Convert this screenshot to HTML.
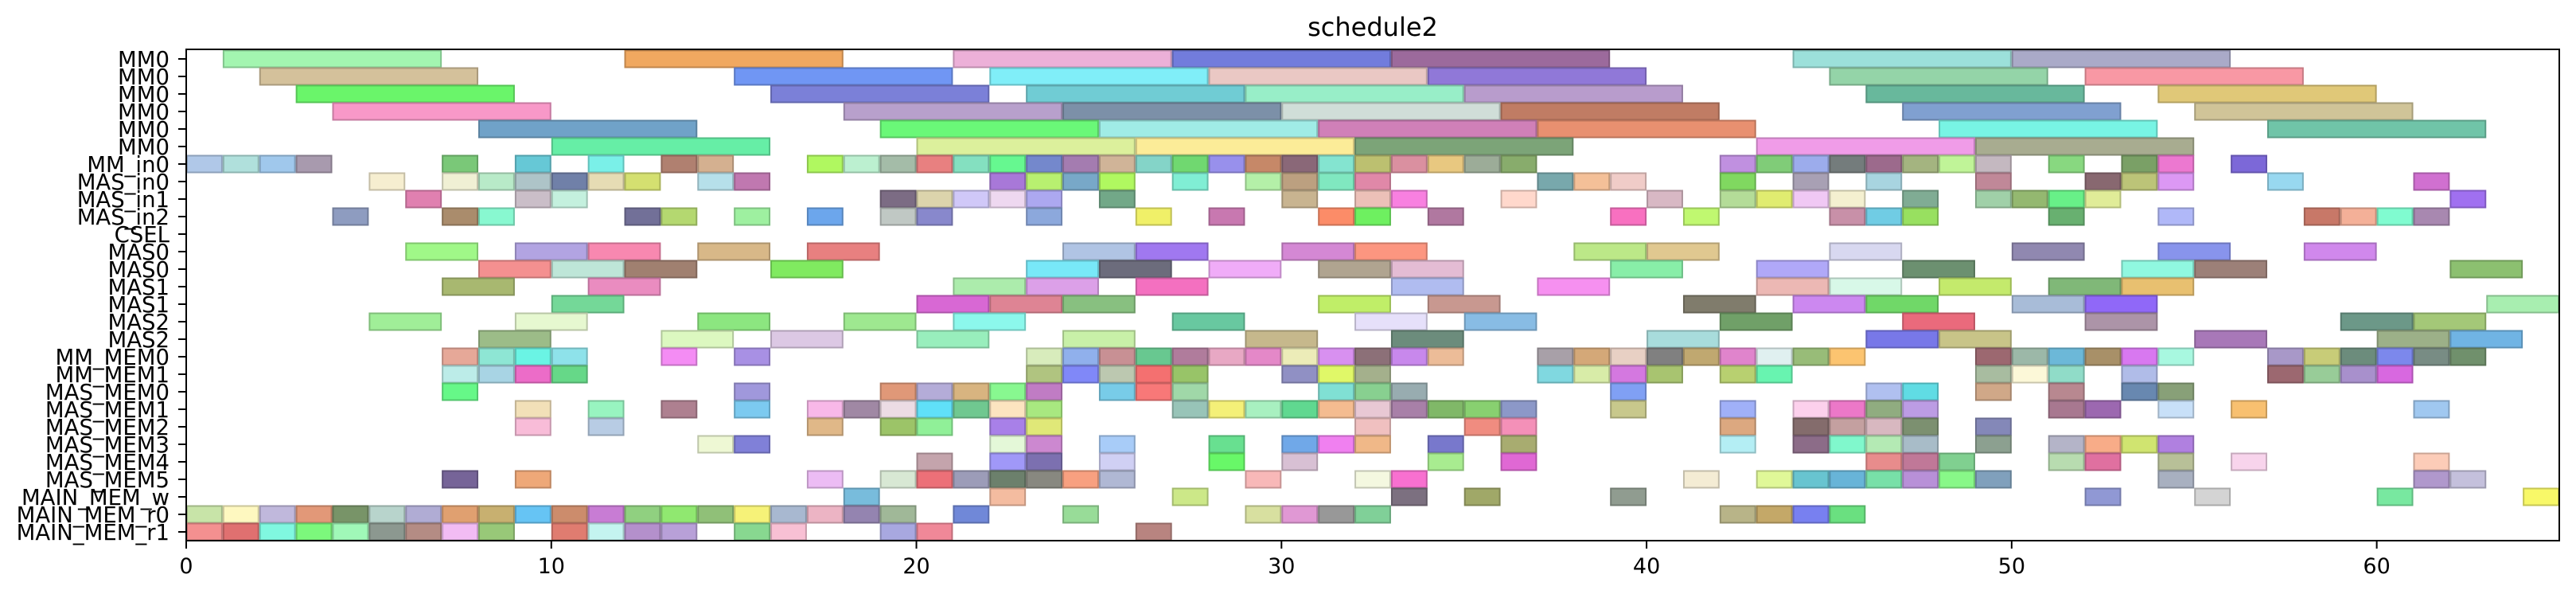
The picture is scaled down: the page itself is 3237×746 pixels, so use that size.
<!DOCTYPE html>
<html><head><meta charset="utf-8"><style>
html,body{margin:0;padding:0;background:#fff;}
svg{display:block;font-family:"DejaVu Sans","Liberation Sans",sans-serif;}
</style></head><body>
<svg id="chart" width="3237" height="746" viewBox="0 0 3237 746" xmlns="http://www.w3.org/2000/svg">
<text x="1725" y="45" font-size="32" text-anchor="middle" fill="#000">schedule2</text>
<g id="bars"></g>
<g id="axes"></g>
</svg>
<script>
const rowLabels = ["MM0","MM0","MM0","MM0","MM0","MM0","MM_in0","MAS_in0","MAS_in1","MAS_in2","CSEL","MAS0","MAS0","MAS1","MAS1","MAS2","MAS2","MM_MEM0","MM_MEM1","MAS_MEM0","MAS_MEM1","MAS_MEM2","MAS_MEM3","MAS_MEM4","MAS_MEM5","MAIN_MEM_w","MAIN_MEM_r0","MAIN_MEM_r1"];
const xTicks = [0,10,20,30,40,50,60];
const rowDur = [6,6,6,6,6,6,1,1,1,1,1,2,2,2,2,2,2,1,1,1,1,1,1,1,1,1,1,1];
const rowStarts = [
[1,12,21,27,33,44,50],
[2,15,22,28,34,45,52],
[3,16,23,29,35,46,54],
[4,18,24,30,36,47,55],
[8,19,25,31,37,48,57],
[10,20,26,32,43,49],
[0,1,2,3,7,9,11,13,14,17,18,19,20,21,22,23,24,25,26,27,28,29,30,31,32,33,34,35,36,42,43,44,45,46,47,48,49,51,53,54,56],
[5,7,8,9,10,11,12,14,15,22,23,24,25,27,29,30,31,32,37,38,39,42,44,46,49,52,53,54,57,61],
[6,9,10,19,20,21,22,23,25,30,32,33,36,40,42,43,44,45,47,49,50,51,52,62],
[4,7,8,12,13,15,17,19,20,23,26,28,31,32,34,39,41,45,46,47,51,54,58,59,60,61],
[],
[6,9,11,14,17,24,26,30,32,38,40,45,50,54,58],
[8,10,12,16,23,25,28,31,33,39,43,47,53,55,62],
[7,11,21,23,26,33,37,43,45,48,51,53],
[10,20,22,24,31,34,41,44,46,50,52,63],
[5,9,14,18,21,27,32,35,42,47,52,59,61],
[8,13,16,20,24,29,33,40,46,48,55,60,62],
[7,8,9,10,13,15,23,24,25,26,27,28,29,30,31,32,33,34,37,38,39,40,41,42,43,44,45,49,50,51,52,53,54,57,58,59,60,61,62],
[7,8,9,10,23,24,25,26,27,30,31,32,37,38,39,40,42,43,49,50,51,53,57,58,59,60],
[7,15,19,20,21,22,23,25,26,27,31,32,33,39,46,47,49,51,53,54],
[9,11,13,15,17,18,19,20,21,22,23,27,28,29,30,31,32,33,34,35,36,39,42,44,45,46,47,51,52,54,56,61],
[9,11,17,19,20,22,23,32,35,36,42,44,45,46,47,49],
[14,15,22,23,25,28,30,31,32,34,36,42,44,45,46,47,49,51,52,53,54],
[20,22,23,25,28,30,34,36,46,47,48,51,52,54,56,61],
[7,9,17,19,20,21,22,23,24,25,29,32,33,41,43,44,45,46,47,48,49,54,61,62],
[18,22,27,33,35,39,52,55,60,64],
[0,1,2,3,4,5,6,7,8,9,10,11,12,13,14,15,16,17,18,19,21,24,29,30,31,32,42,43,44,45],
[0,1,2,3,4,5,6,7,8,10,11,12,13,15,16,19,20,26]
];
const rowColors = [
["#a3f5b0","#f0a860","#ecb0d8","#727cdc","#9c6a9c","#9ce0da","#aaaac8"],
["#d4c19b","#7096f4","#80eef8","#eac8c4","#9078d8","#94d4a8","#f898a4"],
["#6af56a","#7b80d8","#70ccd4","#98eec8","#b89ccc","#68b89c","#e0c878"],
["#f898c8","#b8a0cc","#7c90a8","#d0ded8","#c07c64","#80a0d0","#d0c498"],
["#70a2c8","#6af878","#a0ece6","#d080b8","#e89070","#78f4e4","#70c4a8"],
["#66eea6","#dcf09c","#fcec98","#7ca478","#f09ce8","#a8ac90"],
["#b0c8e8","#b0e0dc","#a0c8ec","#a89aae","#7ac878","#66c8d6","#7af0e8","#b08070","#d4b090","#b0f860","#bcf0d0","#a4bca8","#e88080","#84e0c0","#66f890","#7488cc","#a47cb0","#d0b498","#84d4c8","#70d870","#9890ec","#c68868","#8a6878","#84e4d0","#bcc070","#da90a0","#e8c880","#9cac98","#88ac6c","#c090e0","#80cc78","#9cacec","#747c7c","#9c6a8c","#a4b480","#c0f498","#c4b8c0","#88d880","#7aa066","#ec78d0","#7c68d8"],
["#f6eed0","#f0f0d4","#b8eac8","#aec4c8","#7080a8","#e6dcb4","#d4e070","#b6e0ea","#c078b0","#a878d8","#b8f070","#78a8c8","#b0f860","#80eed4","#b4f0a8","#bca080","#80e8c0","#e088a8","#78a8ac","#f4c098","#f0ccc8","#80d860","#a8a0b4","#a8d4e0","#c08898","#886870","#bcc478","#dc98f4","#98d8f0","#d070d0"],
["#e080b0","#cabec8","#c4f0de","#7c6c84","#dcd4ac","#d0c8f8","#eed8f0","#aca8f0","#72a888","#c8b490","#ecc0b8","#f880e0","#ffd8cc","#d8b8c4","#b4dc98","#e0ec70","#f0c8f4","#f4f0d0","#80ac94","#a0d0a8","#94b870","#68f088","#e0ec98","#a070f0"],
["#8e9cc0","#aa8c6c","#88f8d0","#727098","#b4d870","#9ef0a0","#6ca6ec","#c0c8c4","#8888cc","#8ca8dc","#f0f068","#c878b0","#fc8c68","#6ef060","#b078a0","#f870c0","#c0f870","#c890a8","#70cce4","#98e060","#68b070","#b0b8f8","#c87868","#f4b098","#80fcd0","#a888b0"],
[],
["#a0f888","#b2a4e2","#f888b0","#d8b888","#e88080","#b0c4e4","#a078f0","#d488d4","#fc9680","#bce888","#e0c890","#d8d8f0","#9088b0","#8894ec","#d088ec"],
["#f49090","#bee6d8","#a08070","#80ea60","#78e8f8","#6c6c7c","#f0acf8","#b0a490","#e4bcd4","#88eea8","#b0a8f8","#6c9070","#90f8e0","#9c8078","#8cc070"],
["#a8b870","#ea8cc0","#acecac","#dca0e8","#f470c0","#b0bcf0","#f690f0","#ecb8b4","#d8f8e8","#c4ea6c","#80b878","#e8c070"],
["#74d898","#d868d4","#de8494","#88c080","#c0ee68","#c89890","#807c6c","#cc88f0","#70d868","#a8bcd8","#9068f8","#a8eeb0"],
["#a0ee98","#e6f8d0","#8ce680","#9ee890","#8cf8ec","#68c8a0","#e6e0fa","#88bce4","#70a068","#ea6a7c","#ac94a8","#6c9888","#a4c878"],
["#9cbc88","#dcf8c0","#dcc8e4","#98eebc","#c8f0a8","#c6b88c","#6c8c7c","#a8dcdc","#7878e8","#c8c488","#a878b8","#9cb088","#70b4e4"],
["#e6a898","#8ee6d4","#6af4e4","#8ee2ea","#f48cf4","#a890e4","#d8ecbc","#90b0ec","#c89094","#68c890","#b07c9c","#e8a8c4","#e488c8","#ececb8","#d890f0","#8c7078","#c888ec","#ecbc98","#a8a0a8","#d4a878","#e8d0c4","#808080","#c0a870","#e084cc","#e0f0f0","#98bc78","#fcc470","#9c6870","#9cb8a8","#6cb8d8","#a89068","#d878f0","#a8f8e0","#a898c8","#c8cc78","#6c8c7c","#7c88ec","#788c84","#70906c"],
["#bcece8","#a8d4e4","#ec6cc8","#66d888","#b0c480","#8088f8","#bcc8b0","#f47070","#98c468","#9090c4","#e0f868","#a4b08c","#80d8e0","#d8eca8","#d478e0","#a8c470","#b8d070","#68f4b0","#a8bca0","#fcf8d8","#90dcc8","#b0bce8","#9c6870","#98cc98","#a890cc","#d868e0"],
["#66f888","#a098dc","#e09878","#b4acd8","#d8b480","#88f890","#c07cc4","#78cce8","#f87878","#a0d8a8","#80e0d4","#88d090","#98acb0","#80a0f4","#b0c0f0","#60dce4","#d0a888","#b88890","#6888b0","#88a078"],
["#f2e0b8","#98f4c0","#ae8090","#7ccaf0","#f8b8e8","#a088a4","#ecdce4","#60e0f8","#70c890","#fce4c0","#a8e880","#98c4b8","#f4f078","#a8f0c0","#60d890","#f4bc90","#e8c8d4","#a880a8","#80b868","#88d070","#8c98c8","#c8c88c","#a0b0f8","#fcd0ec","#ec78c8","#90ac80","#bc9ce4","#a87890","#9c68b0","#c8e0f8","#f8c070","#a0c8f0"],
["#f8bcd8","#b8cce4","#e0b888","#9cc468","#90f098","#a880e8","#e0e878","#f0c0c0","#f08c80","#f490b8","#dca880","#846c6c","#c4a0a0","#d8b8c0","#7c9070","#8488b8"],
["#eef8d4","#8080d8","#e4f8d8","#cc88d0","#a8ccf8","#68e090","#70a8e8","#f080f0","#f0b888","#7878cc","#a8ac70","#b4eef4","#8c6c88","#80f8cc","#b4eab4","#a8bcc8","#8ca090","#b4b4c8","#f8ac88","#d0e470","#b080e0"],
["#c4a4ac","#a098f8","#7c70b0","#d0d0f4","#68f868","#d8c0d4","#a8ec90","#e068d4","#e88c8c","#c07898","#80d090","#b8dcb0","#e070a0","#b8c098","#f8d4ec","#fcccb8"],
["#766498","#eea878","#ecbcf4","#d8e8d4","#ec7078","#9c9cb8","#6c806c","#888880","#f8a080","#b0b8d4","#f8b8b8","#f4f8e0","#f870d0","#f4ecd4","#e0f898","#68c4d0","#68b4d8","#78e0a8","#b890d8","#88f888","#80a0bc","#a8b0c0","#b098cc","#c4c0dc"],
["#78bcdc","#f4bca0","#cce888","#7c7080","#a0a868","#909c90","#9098d4","#d4d4d4","#78e8a0","#f8f868"],
["#c8e4a8","#fef8c0","#c0b8dc","#e29878","#789468","#b8d4cc","#b0acd4","#e0a070","#c8b070","#66c4f4","#cc8c6c","#c87cd4","#90d080","#90e870","#90c078","#f6f278","#a8b8d0","#ecb4c4","#9484b0","#a0b898","#7088d8","#98dc98","#d8e0a0","#e098d4","#989898","#80d098","#b8b488","#c4a868","#7880f0","#6ae080"],
["#f49090","#e07070","#80f8e0","#7cf87c","#a0f8b8","#8c9890","#b48c84","#f2bcf4","#98c878","#e07c70","#c4f4f0","#b490cc","#b8a0d8","#88d890","#f8c0d4","#a8a8e0","#f08898","#b88480"]
];

const NS = "http://www.w3.org/2000/svg";
const X0 = 234, X1 = 3216, XMAX = 65, Y0 = 62, Y1 = 679;
function xScale(v){ return X0 + (X1 - X0) * v / XMAX; }
function yScale(r){ return 74 + 22 * r; }
function darker(hex){
  const n = parseInt(hex.slice(1),16);
  const r = Math.round(((n>>16)&255)*0.8), g = Math.round(((n>>8)&255)*0.8), b = Math.round((n&255)*0.8);
  return "rgb("+r+","+g+","+b+")";
}
const barsG = document.getElementById('bars');
for (let r = 0; r < rowStarts.length; r++) {
  for (let i = 0; i < rowStarts[r].length; i++) {
    const s = rowStarts[r][i];
    const xa = xScale(s), xb = xScale(s + rowDur[r]);
    const rect = document.createElementNS(NS, 'rect');
    
    
    rect.setAttribute('x', xa + 1);
    rect.setAttribute('y', yScale(r) - 10.5);
    rect.setAttribute('width', xb - xa - 2);
    rect.setAttribute('height', 21);
    rect.setAttribute('fill', rowColors[r][i]);
    rect.setAttribute('stroke', darker(rowColors[r][i]));
    rect.setAttribute('stroke-width', '2');
    barsG.appendChild(rect);
  }
}
const axG = document.getElementById('axes');
const frame = document.createElementNS(NS, 'rect');


frame.setAttribute('x', X0); frame.setAttribute('y', Y0);
frame.setAttribute('width', X1 - X0); frame.setAttribute('height', Y1 - Y0);
frame.setAttribute('fill', 'none'); frame.setAttribute('stroke', '#000'); frame.setAttribute('stroke-width', '2');
axG.appendChild(frame);
for (let r = 0; r < rowLabels.length; r++) {
  const y = yScale(r);
  const t = document.createElementNS(NS, 'line');
  
  
  t.setAttribute('x1', X0 - 10); t.setAttribute('x2', X0); t.setAttribute('y1', y); t.setAttribute('y2', y);
  t.setAttribute('stroke', '#000'); t.setAttribute('stroke-width', '2');
  axG.appendChild(t);
  const lb = document.createElementNS(NS, 'text');
  
  
  lb.setAttribute('x', 213); lb.setAttribute('y', y + 10);
  lb.setAttribute('font-size', '27.5'); lb.setAttribute('text-anchor', 'end');
  lb.textContent = rowLabels[r];
  axG.appendChild(lb);
}
for (let i = 0; i < xTicks.length; i++) {
  const x = xScale(xTicks[i]);
  const t = document.createElementNS(NS, 'line');
  
  
  t.setAttribute('x1', x); t.setAttribute('x2', x); t.setAttribute('y1', Y1); t.setAttribute('y2', Y1 + 10);
  t.setAttribute('stroke', '#000'); t.setAttribute('stroke-width', '2');
  axG.appendChild(t);
  const lb = document.createElementNS(NS, 'text');
  
  
  lb.setAttribute('x', x); lb.setAttribute('y', 720);
  lb.setAttribute('font-size', '27'); lb.setAttribute('text-anchor', 'middle');
  lb.textContent = xTicks[i];
  axG.appendChild(lb);
}
</script>
</body></html>
